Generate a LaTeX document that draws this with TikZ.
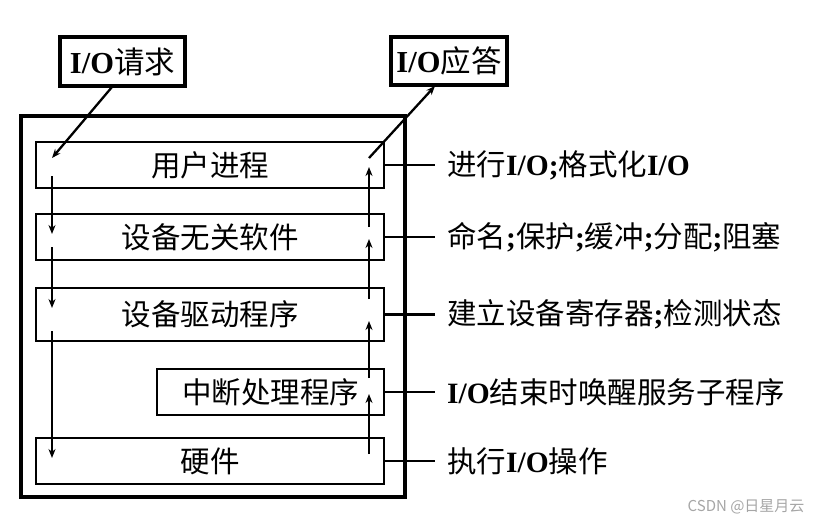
\documentclass[tikz,border=0pt]{standalone}
\usepackage{fontspec}
\setmainfont{Liberation Serif}
\newfontfamily\cjk{Noto Sans CJK SC}
\usetikzlibrary{arrows.meta}
\begin{document}
\begin{tikzpicture}[x=1pt,y=-1pt,
  layerbox/.style={draw,line width=2.3pt,inner sep=0pt,anchor=center,font=\fontsize{29.5}{32}\selectfont\cjk},
  topbox/.style={draw,line width=3.4pt,inner sep=0pt,anchor=center,font=\fontsize{30.5}{34}\selectfont},
  sidelabel/.style={anchor=west,inner xsep=12pt,inner ysep=0pt,font=\fontsize{29.5}{32}\selectfont},
  flow/.style={line width=2.3pt,-{Stealth[length=9pt,width=7pt]}},
  tie/.style={line width=2.3pt}]
\useasboundingbox (0,0) rectangle (822,525);
\fill[white] (0,0) rectangle (822,525);
% outer frame
\draw[line width=3.4pt] (21,116) rectangle (405,497);
% top boxes
\node[topbox,minimum width=125pt,minimum height=49pt] (req) at (122.5,61.5) {\textbf{I/O}{\cjk 请求}};
\node[topbox,minimum width=116pt,minimum height=48pt] (ack) at (449,61) {\textbf{I/O}{\cjk 应答}};
% layers
\node[layerbox,minimum width=348pt,minimum height=46pt] (user) at (210,165) {用户进程};
\node[layerbox,minimum width=348pt,minimum height=46pt] (indep) at (210,237) {设备无关软件};
\node[layerbox,minimum width=348pt,minimum height=53pt] (drv) at (210,314.5) {设备驱动程序};
\node[layerbox,minimum width=227pt,minimum height=46pt] (intr) at (270.5,392) {中断处理程序};
\node[layerbox,minimum width=348pt,minimum height=46pt] (hw) at (210,461) {硬件};
% side labels
\node[sidelabel] (l1) at (435,165) {{\cjk 进行}\textbf{I/O;}{\cjk 格式化}\textbf{I/O}};
\node[sidelabel] (l2) at (435,237) {{\cjk 命名}\textbf{;}{\cjk 保护}\textbf{;}{\cjk 缓冲}\textbf{;}{\cjk 分配}\textbf{;}{\cjk 阻塞}};
\node[sidelabel] (l3) at (435,314.5) {{\cjk 建立设备寄存器}\textbf{;}{\cjk 检测状态}};
\node[sidelabel] (l4) at (435,392) {\textbf{I/O}{\cjk 结束时唤醒服务子程序}};
\node[sidelabel] (l5) at (435,461) {{\cjk 执行}\textbf{I/O}{\cjk 操作}};
\foreach \b/\l in {user/l1,indep/l2,drv/l3,intr/l4,hw/l5}
  \draw[tie] (\b.east) -- (\l.west);
% coordinates of arrows
\coordinate (rq) at (112,87);
\coordinate (rqe) at (52,158);
\coordinate (d1a) at (52,176);
\coordinate (d1b) at (52,234);
\coordinate (d2a) at (52,247);
\coordinate (d2b) at (52,308);
\coordinate (d3a) at (52,331);
\coordinate (d3b) at (52,458);
\coordinate (u1a) at (369,454);
\coordinate (u1b) at (369,394);
\coordinate (u2a) at (369,378);
\coordinate (u2b) at (369,321);
\coordinate (u3a) at (369,299);
\coordinate (u3b) at (369,239);
\coordinate (u4a) at (369,227);
\coordinate (u4b) at (369,167);
\coordinate (ak) at (369,158);
\coordinate (ake) at (435,86);
\draw[flow] (rq) -- (rqe);
\draw[flow] (d1a) -- (d1b);
\draw[flow] (d2a) -- (d2b);
\draw[flow] (d3a) -- (d3b);
\draw[flow] (u1a) -- (u1b);
\draw[flow] (u2a) -- (u2b);
\draw[flow] (u3a) -- (u3b);
\draw[flow] (u4a) -- (u4b);
\draw[flow] (ak) -- (ake);
% watermark
\node[anchor=east,text=gray!70,font=\fontsize{15}{17}\selectfont\cjk] (wm) at (808,507) {CSDN @日星月云};
\end{tikzpicture}
\end{document}
